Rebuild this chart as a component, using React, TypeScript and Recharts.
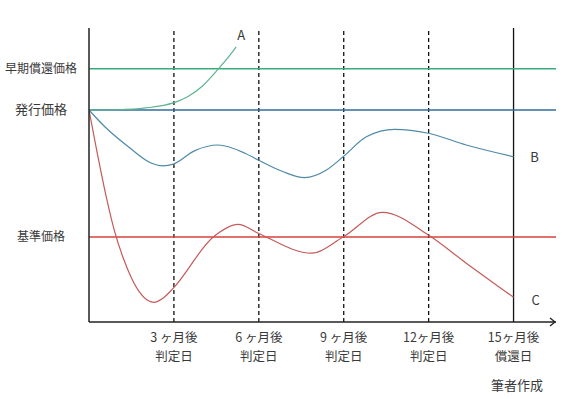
import { LineChart, Line, XAxis, YAxis, ReferenceLine, ReferenceDot } from 'recharts';

// x = months after issue, y = price (arbitrary units)
const monthsA = [0, 1, 2, 3, 3.5, 4, 4.5, 5, 5.2];
const pricesA = [72.1, 72.2, 72.8, 74.6, 76.7, 80.2, 85.3, 91.0, 93.6];

const monthsB = [0, 0.56, 1.39, 2.21, 2.62, 2.98, 3.74, 4.56, 5.51, 5.98, 6.86, 7.62, 8.39, 8.98, 9.8, 10.8, 11.99, 13.33, 15];
const pricesB = [72.1, 66.4, 59.6, 54.0, 53.1, 53.7, 58.3, 60.2, 57.4, 55.1, 51.1, 49.1, 51.7, 56.2, 63.0, 65.5, 64.2, 60.2, 56.2];

const monthsC = [0, 0.3, 0.6, 0.9, 1.2, 1.5, 1.8, 2.1, 2.3, 2.6, 2.98, 4.39, 5.27, 5.98, 7.86, 8.98, 10.37, 11.99, 13.33, 15];
const pricesC = [72.1, 57.0, 43.0, 31.0, 22.0, 15.0, 10.0, 7.2, 6.7, 8.0, 11.5, 28.9, 33.2, 30.2, 23.4, 28.9, 37.3, 29.6, 20.0, 8.4];

const earlyRedemptionPrice = 86.1;
const issuePrice = 72.1;
const basePrice = 28.9;

const judgeMonths = [3, 6, 9, 12];
const redemptionMonth = 15;
const tickMonths = [3, 6, 9, 12, 15];
const tickTop = ['3 ヶ月後', '6 ヶ月後', '9 ヶ月後', '12ヶ月後', '15ヶ月後'];
const tickBottom = ['判定日', '判定日', '判定日', '判定日', '償還日'];

const priceTicks = [earlyRedemptionPrice, issuePrice, basePrice];
const priceNames = ['早期償還価格', '発行価格', '基準価格'];
const priceSizes = [12, 13, 12];

const toPoints = (xs: number[], ys: number[]) => xs.map((m, i) => ({ m, v: ys[i] }));
const dataA = toPoints(monthsA, pricesA);
const dataB = toPoints(monthsB, pricesB);
const dataC = toPoints(monthsC, pricesC);

const FONT = '"Noto Sans CJK JP", "Noto Sans", sans-serif';
const TEXT = '#3a3a3a';

const XTick = ({ x, y, payload }: any) => {
  const i = tickMonths.indexOf(payload.value);
  return (
    <g>
      <text x={x} y={y + 20} textAnchor="middle" fontSize={12.5} fill={TEXT} fontFamily={FONT}>
        {tickTop[i]}
      </text>
      <text x={x} y={y + 38.5} textAnchor="middle" fontSize={12.5} fill={TEXT} fontFamily={FONT}>
        {tickBottom[i]}
      </text>
    </g>
  );
};

const YTick = ({ y, payload }: any) => {
  const i = priceTicks.indexOf(payload.value);
  return (
    <text x={41} y={y} dy={4} textAnchor="middle" fontSize={priceSizes[i]} fill={TEXT} fontFamily={FONT}>
      {priceNames[i]}
    </text>
  );
};

const endLabel = (name: string, len: number, dx: number, dy: number) => (props: any) => {
  if (props.index !== len - 1) return null;
  return (
    <text key={name} x={props.x + dx} y={props.y + dy} textAnchor="middle" fontSize={13} fill={TEXT} fontFamily={FONT}>
      {name}
    </text>
  );
};

const Arrow = ({ cx, cy }: any) => (
  <polyline points={`${cx - 6},${cy - 4} ${cx - 1},${cy} ${cx - 6},${cy + 4}`} fill="none" stroke="#222" strokeWidth={1.3} />
);

export default function App() {
  return (
    <div style={{ position: 'absolute', left: 0, top: 0, width: 566, height: 399, background: '#fff' }}>
      <LineChart width={566} height={399} margin={{ top: 28, right: 10, left: 0, bottom: 0 }}>
        <XAxis
          type="number"
          dataKey="m"
          domain={[0, 16.5]}
          ticks={tickMonths}
          tick={<XTick />}
          tickLine={false}
          tickSize={0}
          tickMargin={0}
          axisLine={{ stroke: '#222', strokeWidth: 1.5 }}
          height={77}
          allowDataOverflow
        />
        <YAxis
          type="number"
          dataKey="v"
          domain={[0, 100]}
          ticks={priceTicks}
          tick={<YTick />}
          tickLine={false}
          axisLine={{ stroke: '#222', strokeWidth: 1.5 }}
          width={89}
          allowDataOverflow
        />
        {judgeMonths.map((m) => (
          <ReferenceLine key={m} x={m} stroke="#111" strokeWidth={1.3} strokeDasharray="4 3" />
        ))}
        <ReferenceLine x={redemptionMonth} stroke="#111" strokeWidth={1.3} />
        <ReferenceLine y={earlyRedemptionPrice} stroke="#36ad7a" strokeWidth={1.5} />
        <ReferenceLine y={issuePrice} stroke="#2f6e9e" strokeWidth={1.5} />
        <ReferenceLine y={basePrice} stroke="#d8403c" strokeWidth={1.5} />
        <ReferenceDot x={16.5} y={0} r={0} shape={<Arrow />} ifOverflow="visible" />
        <Line
          data={dataA}
          dataKey="v"
          type="monotone"
          stroke="#5bb58f"
          strokeWidth={1.2}
          dot={false}
          isAnimationActive={false}
          label={endLabel('A', dataA.length, 5, -7)}
        />
        <Line
          data={dataB}
          dataKey="v"
          type="monotone"
          stroke="#4f8aa8"
          strokeWidth={1.2}
          dot={false}
          isAnimationActive={false}
          label={endLabel('B', dataB.length, 21, 5)}
        />
        <Line
          data={dataC}
          dataKey="v"
          type="monotone"
          stroke="#c55a5a"
          strokeWidth={1.2}
          dot={false}
          isAnimationActive={false}
          label={endLabel('C', dataC.length, 22, 8)}
        />
      </LineChart>
      <div
        style={{
          position: 'absolute',
          left: 491,
          top: 376,
          fontSize: 13,
          color: TEXT,
          fontFamily: FONT,
          lineHeight: '18px',
        }}
      >
        筆者作成
      </div>
    </div>
  );
}
